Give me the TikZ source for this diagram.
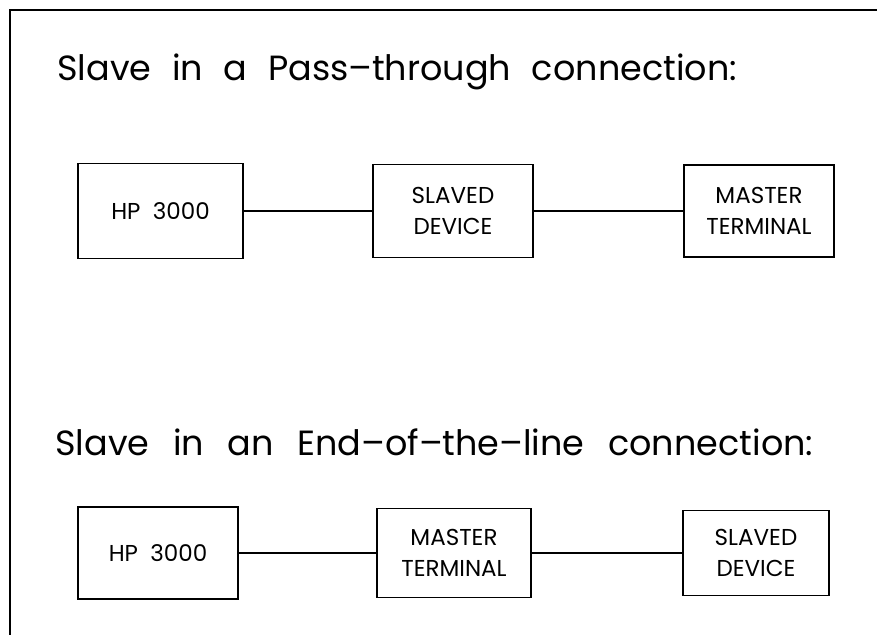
\documentclass[tikz,border=0pt]{standalone}
\usepackage{fontspec}
\setmainfont{Poppins}
\newcommand{\gap}[1]{\ \ \hspace{#1}}
\begin{document}
\begin{tikzpicture}[x=1pt, y=-1pt,
  box/.style={draw, line width=1.6pt, align=center, inner sep=0pt, font=\fontsize{23}{31}\selectfont},
  title/.style={anchor=base west, inner sep=0pt, font=\fontsize{35}{40}\selectfont}]
\useasboundingbox (0,0) rectangle (877,643);
\draw [line width=1.4pt] (877,10) -- (10,10) -- (10,635);

\node [title] (t1) at (57,80) {Slave\gap{2pt}in\gap{2pt}a\gap{2pt}Pass--through\gap{2pt}connection:};
\node [box, minimum width=165pt, minimum height=95pt] (hp1) at (160.5,211) {HP\ \ 3000};
\node [box, minimum width=160pt, minimum height=93pt] (sl1) at (453,211) {SLAVED\\DEVICE};
\node [box, minimum width=150pt, minimum height=92pt] (ms1) at (759,211) {MASTER\\TERMINAL};
\draw [line width=1.3pt] (hp1) to (sl1);
\draw [line width=1.3pt] (sl1) to (ms1);

\node [title] (t2) at (55,455) {Slave\gap{5pt}in\gap{5pt}an\gap{5pt}End--of--the--line\gap{5pt}connection:};
\node [box, minimum width=160pt, minimum height=92pt] (hp2) at (158,553) {HP\ \ 3000};
\node [box, minimum width=154pt, minimum height=89pt] (ms2) at (454,553) {MASTER\\TERMINAL};
\node [box, minimum width=146pt, minimum height=85pt] (sl2) at (756,553) {SLAVED\\DEVICE};
\draw [line width=1.3pt] (hp2) to (ms2);
\draw [line width=1.3pt] (ms2) to (sl2);
\end{tikzpicture}
\end{document}
